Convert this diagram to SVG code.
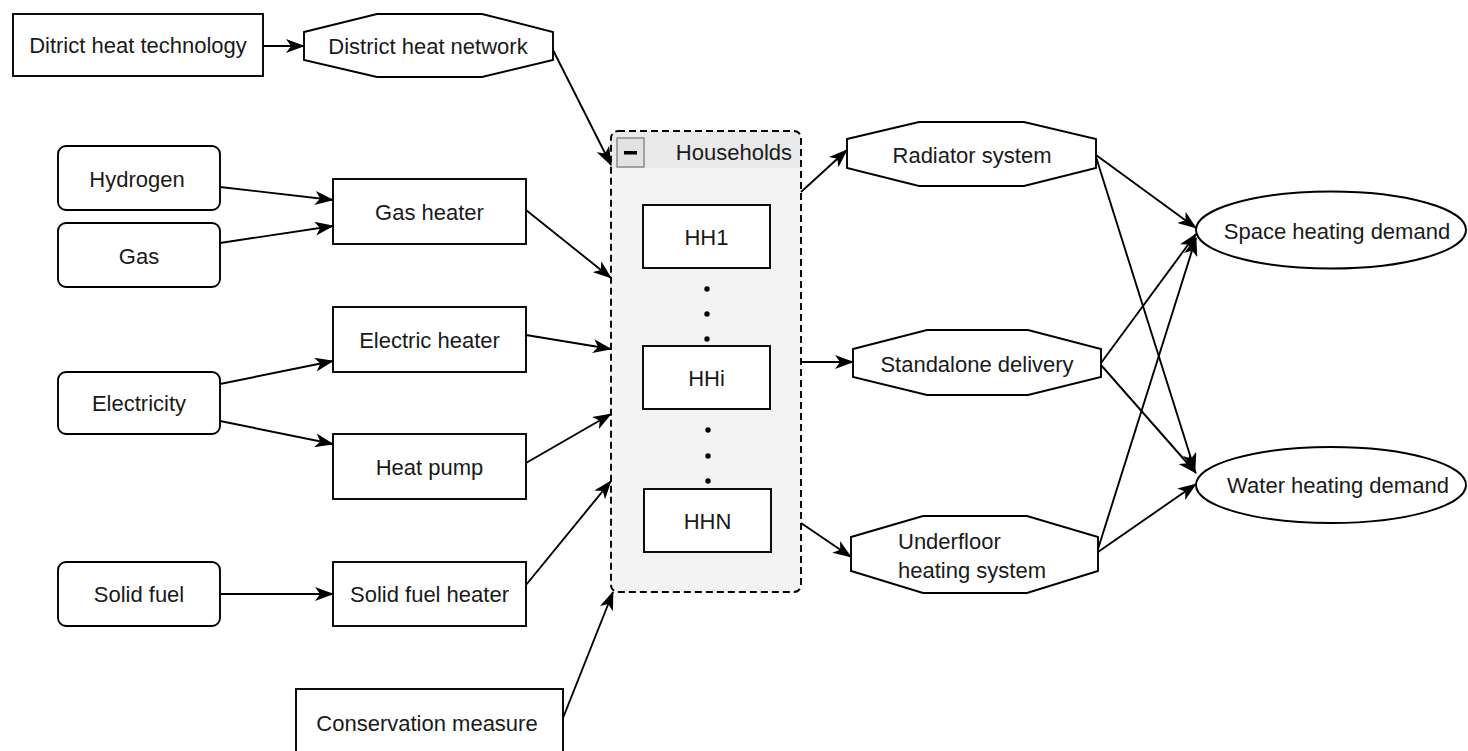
<svg xmlns="http://www.w3.org/2000/svg" width="1468" height="751" viewBox="0 0 1468 751">
<style>
.n{fill:#fff;stroke:#000;stroke-width:1.9}
.t{font-family:"Liberation Sans",Arial,sans-serif;font-size:22px;fill:#1a1a1a;text-anchor:middle;dominant-baseline:central}
.c line{stroke:#000;stroke-width:1.9;marker-end:url(#ah)}
.dot{fill:#000}
</style>
<defs>
<marker id="ah" viewBox="0 0 19 14" markerWidth="19" markerHeight="14" refX="18" refY="7" orient="auto" markerUnits="userSpaceOnUse">
<path d="M0,0 L19,7 L0,14 L5,7 Z" fill="#000"/>
</marker>
</defs>
<rect width="1468" height="751" fill="#fff"/>

<g id="households">
<rect x="611" y="131" width="190" height="461" rx="7" fill="#f3f3f3" stroke="none"/>
<path d="M618,131 H794 a7,7 0 0 1 7,7 V168 H611 V138 a7,7 0 0 1 7,-7 Z" fill="#e9e9e9"/>
<rect x="611" y="131" width="190" height="461" rx="7" fill="none" stroke="#000" stroke-width="1.9" stroke-dasharray="7,4"/>
<rect x="617" y="138" width="27" height="29" fill="#e2e2e2" stroke="#8a8a8a" stroke-width="1.5"/>
<rect x="624" y="151" width="13" height="3.5" fill="#000"/>
<text class="t" x="792" y="152" style="text-anchor:end">Households</text>
</g>

<g id="hh1"><rect class="n" x="643" y="205" width="127" height="63"/><text class="t" x="706.5" y="237">HH1</text></g>
<g id="hhi"><rect class="n" x="643" y="346" width="127" height="63"/><text class="t" x="706.5" y="378">HHi</text></g>
<g id="hhn"><rect class="n" x="644" y="489" width="127" height="63"/><text class="t" x="707.5" y="521">HHN</text></g>
<g id="dots">
<circle class="dot" cx="707" cy="289" r="2.7"/><circle class="dot" cx="707" cy="314" r="2.7"/><circle class="dot" cx="707" cy="339" r="2.7"/>
<circle class="dot" cx="708" cy="430" r="2.7"/><circle class="dot" cx="708" cy="456" r="2.7"/><circle class="dot" cx="708" cy="481" r="2.7"/>
</g>

<g id="district-tech"><rect class="n" x="13" y="14" width="250" height="62"/><text class="t" x="138" y="45">Ditrict heat technology</text></g>
<g id="district-net"><polygon class="n" points="304,32 377,14 482,14 553,32 553,60 482,77 377,77 304,60"/><text class="t" x="428" y="46">District heat network</text></g>

<g id="hydrogen"><rect class="n" x="58" y="146" width="162" height="64" rx="8"/><text class="t" x="137" y="179">Hydrogen</text></g>
<g id="gas"><rect class="n" x="58" y="223" width="162" height="64" rx="8"/><text class="t" x="139" y="256">Gas</text></g>
<g id="electricity"><rect class="n" x="58" y="372" width="162" height="62" rx="8"/><text class="t" x="139" y="403">Electricity</text></g>
<g id="solid-fuel"><rect class="n" x="58" y="562" width="162" height="64" rx="8"/><text class="t" x="139" y="594">Solid fuel</text></g>

<g id="gas-heater"><rect class="n" x="333" y="179" width="193" height="65"/><text class="t" x="429.5" y="212">Gas heater</text></g>
<g id="electric-heater"><rect class="n" x="333" y="307" width="193" height="65"/><text class="t" x="429.5" y="340">Electric heater</text></g>
<g id="heat-pump"><rect class="n" x="333" y="434" width="193" height="65"/><text class="t" x="429.5" y="467">Heat pump</text></g>
<g id="solid-fuel-heater"><rect class="n" x="333" y="562" width="193" height="64"/><text class="t" x="429.5" y="594">Solid fuel heater</text></g>
<g id="conservation"><rect class="n" x="296" y="689" width="267" height="68"/><text class="t" x="427" y="723">Conservation measure</text></g>

<g id="radiator"><polygon class="n" points="847,139 919,122 1024,122 1096,139 1096,168 1024,186 919,186 847,168"/><text class="t" x="972" y="155">Radiator system</text></g>
<g id="standalone"><polygon class="n" points="853,349 927,330 1028,330 1101,349 1101,377 1028,395 927,395 853,377"/><text class="t" x="977" y="364">Standalone delivery</text></g>
<g id="underfloor"><polygon class="n" points="851,537 923,516 1027,516 1098,537 1098,571 1027,593 923,593 851,571"/><text class="t" x="898" y="541" style="text-anchor:start">Underfloor</text><text class="t" x="898" y="570" style="text-anchor:start">heating system</text></g>

<g id="space-heating"><ellipse class="n" cx="1331" cy="230" rx="135" ry="38.5"/><text class="t" x="1337" y="231">Space heating demand</text></g>
<g id="water-heating"><ellipse class="n" cx="1331" cy="485" rx="135" ry="38"/><text class="t" x="1338" y="485">Water heating demand</text></g>

<g id="connectors" class="c">
<line x1="263" y1="46" x2="304" y2="46"/>
<line x1="553" y1="50" x2="611" y2="165"/>
<line x1="220" y1="187" x2="333" y2="200"/>
<line x1="220" y1="243" x2="333" y2="226"/>
<line x1="526" y1="210" x2="611" y2="278"/>
<line x1="220" y1="384" x2="333" y2="361"/>
<line x1="220" y1="421" x2="333" y2="444"/>
<line x1="526" y1="335" x2="611" y2="349"/>
<line x1="526" y1="463" x2="611" y2="414"/>
<line x1="220" y1="594" x2="333" y2="594"/>
<line x1="526" y1="585" x2="611" y2="481"/>
<line x1="563" y1="718" x2="613" y2="592"/>
<line x1="801" y1="192" x2="847" y2="150"/>
<line x1="801" y1="362" x2="853" y2="362"/>
<line x1="801" y1="523" x2="851" y2="557"/>
<line x1="1096" y1="155" x2="1196" y2="228"/>
<line x1="1096" y1="157" x2="1195" y2="471"/>
<line x1="1101" y1="363" x2="1196" y2="234"/>
<line x1="1101" y1="365" x2="1196" y2="473"/>
<line x1="1098" y1="549" x2="1196" y2="238"/>
<line x1="1098" y1="552" x2="1196" y2="484"/>
</g>
</svg>
